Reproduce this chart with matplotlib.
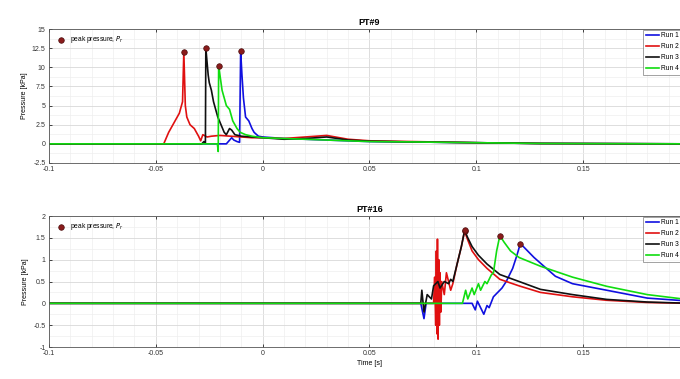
import matplotlib
matplotlib.use("Agg")
import matplotlib.pyplot as plt
from matplotlib.ticker import AutoMinorLocator, FormatStrFormatter

plt.rcParams['font.family'] = ['Liberation Sans', 'DejaVu Sans']

run_labels = ["Run 1", "Run 2", "Run 3", "Run 4"]
run_colors = ["#1010e0", "#e01010", "#101010", "#10dd10"]

# ---------------- PT#9 (top) ----------------
pt9_run1_t = [-0.1, -0.017, -0.0145, -0.0135, -0.012, -0.0108, -0.0103, -0.0097, -0.009, -0.008, -0.0065,
              -0.005, -0.004, -0.002, 0.0, 0.01, 0.02, 0.03, 0.04, 0.05, 0.07, 0.1, 0.13, 0.2]
pt9_run1_p = [0.0, 0.0, 0.8, 0.5, 0.3, 0.2, 12.1, 9.0, 6.0, 3.5, 3.0,
              2.0, 1.5, 1.0, 0.9, 0.7, 0.6, 0.5, 0.4, 0.3, 0.25, 0.15, 0.05, 0.0]

pt9_run2_t = [-0.1, -0.0463, -0.044, -0.041, -0.039, -0.0375, -0.0369, -0.0362, -0.0355, -0.034, -0.032,
              -0.030, -0.029, -0.028, -0.026, -0.024, -0.02, -0.015, -0.01, -0.005, 0.0, 0.01, 0.02,
              0.03, 0.04, 0.05, 0.07, 0.1, 0.13, 0.2]
pt9_run2_p = [0.0, 0.0, 1.5, 3.0, 4.0, 5.5, 12.0, 5.0, 3.5, 2.5, 2.0,
              1.0, 0.4, 1.2, 0.9, 1.0, 1.1, 1.0, 0.9, 0.8, 0.8, 0.7, 0.9,
              1.1, 0.6, 0.4, 0.3, 0.15, 0.05, 0.0]

pt9_run3_t = [-0.1, -0.0285, -0.0275, -0.0268, -0.0266, -0.0255, -0.025, -0.024, -0.023, -0.022, -0.021,
              -0.0195, -0.018, -0.017, -0.0155, -0.0145, -0.013, -0.01, -0.005, 0.0, 0.01, 0.02, 0.03,
              0.04, 0.05, 0.07, 0.1, 0.13, 0.2]
pt9_run3_p = [0.0, 0.0, 0.3, 0.1, 12.5, 9.0, 8.0, 7.0, 5.5, 4.5, 3.5,
              2.5, 1.5, 1.2, 2.0, 1.8, 1.2, 1.0, 0.9, 0.8, 0.6, 0.7, 0.9,
              0.5, 0.35, 0.25, 0.15, 0.05, 0.0]

pt9_run4_t = [-0.1, -0.0212, -0.0208, -0.0206, -0.019, -0.018, -0.017, -0.0155, -0.014, -0.012, -0.0105,
              -0.008, -0.005, 0.0, 0.01, 0.02, 0.03, 0.04, 0.05, 0.07, 0.1, 0.13, 0.2]
pt9_run4_p = [0.0, 0.0, -1.0, 10.2, 7.0, 6.0, 5.0, 4.5, 3.0, 2.0, 1.5,
              1.2, 1.0, 0.8, 0.7, 0.6, 0.5, 0.4, 0.3, 0.25, 0.15, 0.05, 0.0]

pt9_peak_t = [-0.0103, -0.0369, -0.0266, -0.0206]
pt9_peak_p = [12.1, 12.0, 12.5, 10.2]

# ---------------- PT#16 (bottom) ----------------
pt16_run1_t = [-0.1, 0.074, 0.0755, 0.0765, 0.098, 0.0995, 0.1005, 0.1015, 0.1035, 0.105, 0.106, 0.108,
               0.111, 0.112, 0.114, 0.117, 0.119, 0.1206, 0.123, 0.127, 0.13, 0.137, 0.145, 0.161, 0.18, 0.2]
pt16_run1_p = [0.0, 0.0, -0.35, 0.0, 0.0, -0.15, 0.05, -0.05, -0.25, -0.05, -0.1, 0.15,
               0.3, 0.35, 0.5, 0.8, 1.1, 1.37, 1.25, 1.05, 0.92, 0.62, 0.45, 0.3, 0.12, 0.05]

pt16_run2_t = [-0.1, 0.080, 0.0805, 0.081, 0.0813, 0.0816, 0.0818, 0.0821, 0.0824, 0.0827, 0.083, 0.0834,
               0.0838, 0.085, 0.086, 0.088, 0.089, 0.091, 0.093, 0.0945, 0.096, 0.098, 0.101, 0.105,
               0.111, 0.12, 0.13, 0.145, 0.161, 0.18, 0.2]
pt16_run2_p = [0.0, 0.0, 0.6, -0.5, 1.2, -0.7, 1.47, -0.82, 1.0, -0.5, 0.7, -0.2,
               0.5, 0.2, 0.7, 0.3, 0.45, 0.9, 1.3, 1.65, 1.45, 1.2, 1.0, 0.8,
               0.55, 0.4, 0.25, 0.15, 0.07, 0.02, 0.0]

pt16_run3_t = [-0.1, 0.074, 0.0745, 0.0755, 0.077, 0.079, 0.080, 0.082, 0.083, 0.085, 0.087, 0.088,
               0.089, 0.091, 0.093, 0.0945, 0.096, 0.098, 0.101, 0.105, 0.111, 0.12, 0.13, 0.145,
               0.161, 0.18, 0.2]
pt16_run3_p = [0.0, 0.0, 0.3, -0.2, 0.2, 0.1, 0.4, 0.5, 0.35, 0.5, 0.45, 0.55,
               0.5, 0.9, 1.3, 1.67, 1.5, 1.3, 1.1, 0.9, 0.66, 0.5, 0.32, 0.2,
               0.09, 0.03, 0.0]

pt16_run4_t = [-0.1, 0.0935, 0.095, 0.096, 0.098, 0.099, 0.101, 0.102, 0.104, 0.105, 0.107, 0.108,
               0.1095, 0.111, 0.113, 0.116, 0.12, 0.13, 0.145, 0.161, 0.18, 0.2]
pt16_run4_p = [0.0, 0.0, 0.3, 0.1, 0.35, 0.2, 0.45, 0.3, 0.5, 0.45, 0.65, 0.7,
               1.2, 1.55, 1.4, 1.2, 1.05, 0.85, 0.6, 0.39, 0.2, 0.08]

pt16_peak_t = [0.1206, 0.0945, 0.0945, 0.111]
pt16_peak_p = [1.37, 1.65, 1.67, 1.55]

x_ticks = [-0.1, -0.05, 0.0, 0.05, 0.1, 0.15]
pt9_yticks = [-2.5, 0, 2.5, 5, 7.5, 10, 12.5, 15]
pt16_yticks = [-1, -0.5, 0, 0.5, 1, 1.5, 2]

W, H = 680, 379
fig = plt.figure(figsize=(W / 100, H / 100), dpi=100)
ax1 = fig.add_axes([49 / W, 1 - 163 / H, 641 / W, 134 / H])
ax2 = fig.add_axes([49 / W, 1 - 347 / H, 641 / W, 131 / H])

peak_color = "#8a1c1c"

def style(ax, title, yticks, ylim):
    ax.set_xlim(-0.1, 0.2)
    ax.set_ylim(*ylim)
    ax.set_xticks(x_ticks)
    ax.set_yticks(yticks)
    ax.xaxis.set_major_formatter(FormatStrFormatter('%g'))
    ax.yaxis.set_major_formatter(FormatStrFormatter('%g'))
    ax.xaxis.set_minor_locator(AutoMinorLocator(5))
    ax.yaxis.set_minor_locator(AutoMinorLocator(2))
    ax.grid(True, which='major', color='#d8d8d8', lw=0.6)
    ax.grid(True, which='minor', color='#eeeeee', lw=0.5)
    ax.set_axisbelow(True)
    ax.tick_params(labelsize=5, length=2.5, width=0.5, direction='in', top=True, right=True, pad=2.5,
                   labelcolor='#333333')
    ax.tick_params(which='minor', length=0)
    for s in ax.spines.values():
        s.set_linewidth(0.6)
        s.set_color('#555555')
    ax.set_title(title, fontsize=6.5, fontweight='bold', pad=3)
    ax.set_ylabel("Pressure [kPa]", fontsize=5, labelpad=3)

runs9 = [(pt9_run1_t, pt9_run1_p), (pt9_run2_t, pt9_run2_p), (pt9_run3_t, pt9_run3_p), (pt9_run4_t, pt9_run4_p)]
runs16 = [(pt16_run1_t, pt16_run1_p), (pt16_run2_t, pt16_run2_p), (pt16_run3_t, pt16_run3_p), (pt16_run4_t, pt16_run4_p)]

for ax, runs, pk_t, pk_p, title, yt, yl in [
        (ax1, runs9, pt9_peak_t, pt9_peak_p, "PT#9", pt9_yticks, (-2.5, 15)),
        (ax2, runs16, pt16_peak_t, pt16_peak_p, "PT#16", pt16_yticks, (-1, 2))]:
    handles = []
    for (t, p), c, lab in zip(runs, run_colors, run_labels):
        h, = ax.plot(t, p, color=c, lw=1.2, label=lab)
        handles.append(h)
    pk = ax.scatter(pk_t, pk_p, s=16, color=peak_color, edgecolor='#4a0c0c', linewidths=0.5, zorder=5)
    style(ax, title, yt, yl)
    leg1 = ax.legend([pk], ["peak pressure, $P_r$"], loc='upper left', frameon=False, fontsize=4.8,
                     handletextpad=0.4, borderaxespad=0.4, bbox_to_anchor=(0.0, 1.0))
    ax.add_artist(leg1)
    leg2 = ax.legend(handles, run_labels, loc='upper left', bbox_to_anchor=(0.927, 0.995), fontsize=4.8,
                     frameon=True, fancybox=False, edgecolor='#777777', handlelength=2.0,
                     handletextpad=0.3, borderpad=0.4, labelspacing=0.6, borderaxespad=0.0)
    leg2.get_frame().set_linewidth(0.6)

ax2.set_xlabel("Time [s]", fontsize=5, labelpad=2)

fig.savefig("out.png", dpi=100)
